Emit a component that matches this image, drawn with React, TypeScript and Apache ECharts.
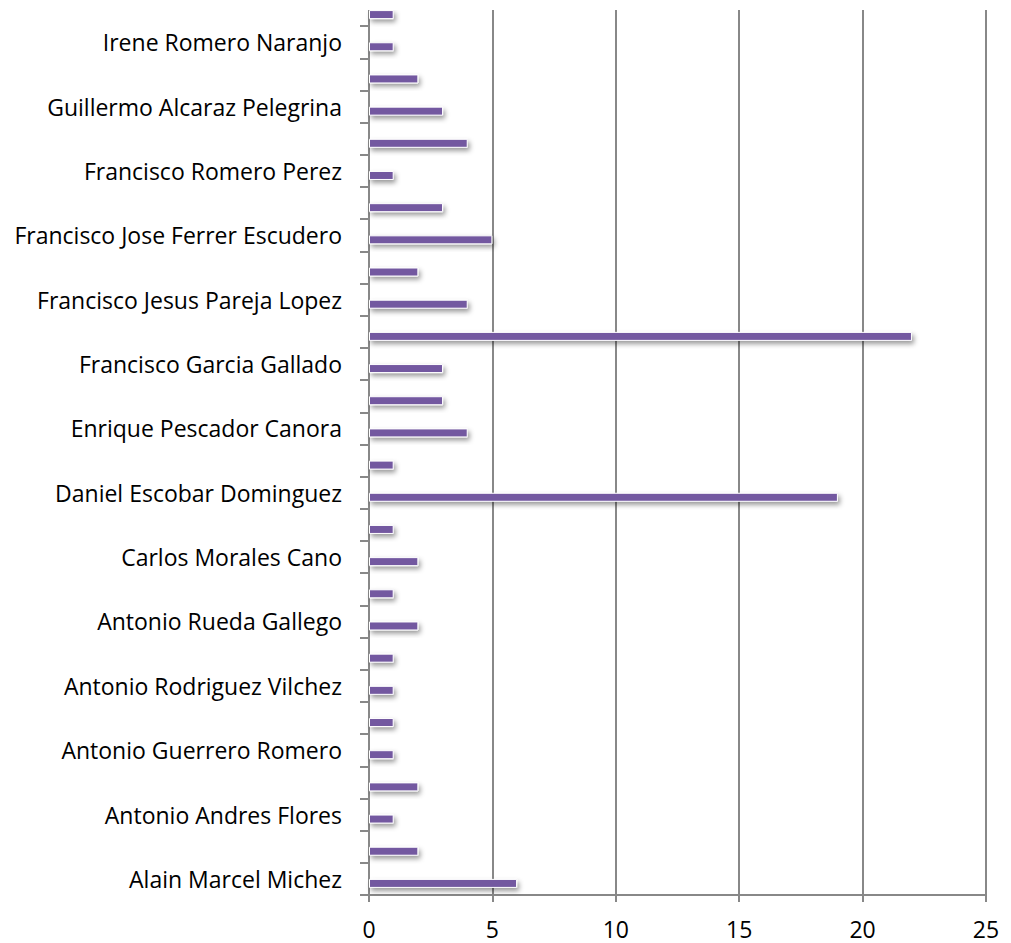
import React, { useEffect, useRef } from "react";
import * as echarts from "echarts";

// bottom (index 0) to top
const categories: string[] = [
  "Alain Marcel Michez", "",
  "Antonio Andres Flores", "",
  "Antonio Guerrero Romero", "",
  "Antonio Rodriguez Vilchez", "",
  "Antonio Rueda Gallego", "",
  "Carlos Morales Cano", "",
  "Daniel Escobar Dominguez", "",
  "Enrique Pescador Canora", "",
  "Francisco Garcia Gallado", "",
  "Francisco Jesus Pareja Lopez", "",
  "Francisco Jose Ferrer Escudero", "",
  "Francisco Romero Perez", "",
  "Guillermo Alcaraz Pelegrina", "",
  "Irene Romero Naranjo", "",
];

const values: number[] = [
  6, 2,
  1, 2,
  1, 1,
  1, 1,
  2, 1,
  2, 1,
  19, 1,
  4, 3,
  3, 22,
  4, 2,
  5, 3,
  1, 4,
  3, 2,
  1, 1,
];

const emptySeries: (number | null)[] = values.map(() => null);

const xTicks = { min: 0, max: 25, interval: 5 };

export default function App() {
  const ref = useRef<HTMLDivElement>(null);
  useEffect(() => {
    if (!ref.current) return;
    const chart = echarts.init(ref.current, undefined, { renderer: "svg" });
    const font = "Open Sans";
    chart.setOption({
      animation: false,
      backgroundColor: "#ffffff",
      grid: { left: 369, right: 25, top: 0, bottom: 48, containLabel: false },
      xAxis: {
        type: "value",
        min: xTicks.min,
        max: xTicks.max,
        interval: xTicks.interval,
        axisLine: { show: true, lineStyle: { color: "#888888", width: 2 } },
        axisTick: { show: true, length: 7, lineStyle: { color: "#888888", width: 2 } },
        axisLabel: { color: "#000", fontSize: 23, fontFamily: font, margin: 22 },
        splitLine: { show: true, lineStyle: { color: "#888888", width: 2 } },
      },
      yAxis: {
        type: "category",
        data: categories,
        axisLine: { show: true, lineStyle: { color: "#888888", width: 2 } },
        axisTick: {
          show: true,
          interval: 0,
          alignWithLabel: false,
          length: 9,
          lineStyle: { color: "#888888", width: 2 },
        },
        axisLabel: { color: "#000", fontSize: 23, fontFamily: font, margin: 27, interval: 0 },
        splitLine: { show: false },
      },
      series: [
        {
          type: "bar",
          data: emptySeries,
          barWidth: 9,
          barGap: "0%",
        },
        {
          type: "bar",
          data: values,
          barWidth: 9,
          barGap: "0%",
          itemStyle: {
            color: "#7358a0",
            borderColor: "#ffffff",
            borderWidth: 1,
            shadowBlur: 5,
            shadowColor: "rgba(0,0,0,0.4)",
            shadowOffsetX: 2,
            shadowOffsetY: 3,
          },
        },
      ],
      graphic: [
        {
          type: "rect",
          z: 100,
          shape: { x: 350, y: 0, width: 661, height: 16 },
          style: { fill: "#ffffff" },
        },
      ],
    });
    return () => chart.dispose();
  }, []);
  return (
    <div
      ref={ref}
      style={{ position: "absolute", left: 0, top: -6, width: 1011, height: 949 }}
    />
  );
}
